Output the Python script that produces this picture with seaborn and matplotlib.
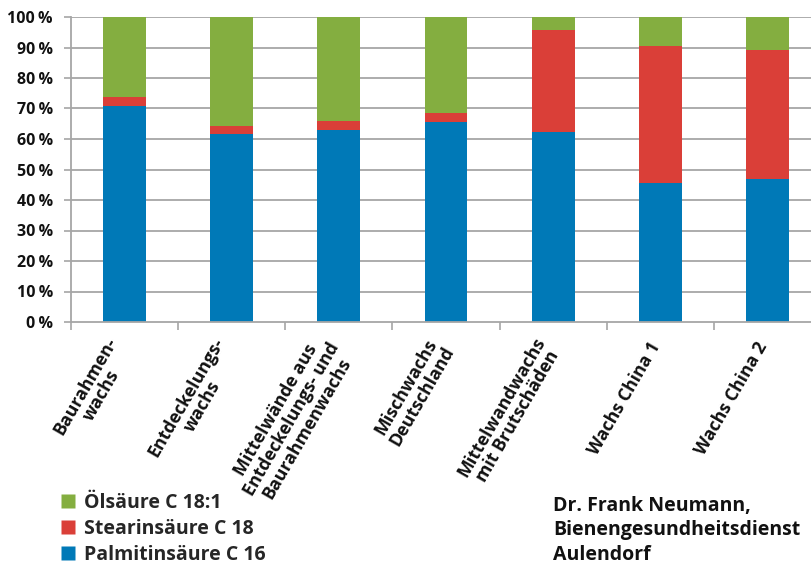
import matplotlib
matplotlib.use("Agg")
import matplotlib.pyplot as plt
from matplotlib.lines import Line2D
from matplotlib.transforms import ScaledTranslation
import numpy as np
import pandas as pd
import seaborn as sns

# Wax samples and their fatty acid shares (percent)
categories = [
    "Baurahmen-\nwachs",
    "Entdeckelungs-\nwachs",
    "Mittelwände aus\nEntdeckelungs- und\nBaurahmenwachs",
    "Mischwachs\nDeutschland",
    "Mittelwandwachs\nmit Brutschäden",
    "Wachs China 1",
    "Wachs China 2",
]
palmitin = [70.8, 61.8, 63.0, 65.7, 62.2, 45.5, 46.9]
stearin = [3.0, 2.6, 3.0, 2.9, 33.6, 45.1, 42.4]
oelsaeure = [26.2, 35.6, 34.0, 31.4, 4.2, 9.4, 10.7]

series_names = ["Ölsäure C 18:1", "Stearinsäure C 18", "Palmitinsäure C 16"]
colors = {"Ölsäure C 18:1": "#84AE40",
          "Stearinsäure C 18": "#DA3F38",
          "Palmitinsäure C 16": "#0079B7"}
y_ticks = list(range(0, 101, 10))
y_tick_labels = [f"{v}\u2009%" for v in y_ticks]
author = "Dr. Frank Neumann,\nBienengesundheitsdienst\nAulendorf"

sns.set_theme(style="white")
plt.rcParams["font.family"] = ["Open Sans", "DejaVu Sans"]
plt.rcParams["font.weight"] = "bold"

df = pd.DataFrame({
    "Probe": categories,
    "Palmitinsäure C 16": palmitin,
    "Stearinsäure C 18": stearin,
    "Ölsäure C 18:1": oelsaeure,
})
# cumulative tops for stacking
df["top_palm"] = df["Palmitinsäure C 16"]
df["top_stear"] = df["top_palm"] + df["Stearinsäure C 18"]
df["top_oel"] = df["top_stear"] + df["Ölsäure C 18:1"]

fig = plt.figure(figsize=(8.11, 5.67), dpi=100)
ax = fig.add_axes([71 / 811, 1 - 322 / 567, 750 / 811, 305 / 567])

grid_color = "#A6A6A6"
for v in y_ticks[1:]:
    ax.axhline(v, color=grid_color, lw=1.3, zorder=0)

for col, name in [("top_oel", "Ölsäure C 18:1"),
                  ("top_stear", "Stearinsäure C 18"),
                  ("top_palm", "Palmitinsäure C 16")]:
    sns.barplot(data=df, x="Probe", y=col, color=colors[name], width=0.4,
                saturation=1, ax=ax, zorder=2, edgecolor="none")

text_color = "#111111"
ax.set_ylim(0, 100)
ax.set_xlim(-0.5, len(categories) - 0.5)
ax.set_xlabel("")
ax.set_ylabel("")
ax.set_yticks(y_ticks)
ax.set_yticklabels(y_tick_labels, fontsize=11.5, fontweight="bold", color=text_color)
ax.tick_params(axis="y", length=5, width=1.2, color=grid_color, pad=8, left=True)

ax.set_xticks(range(len(categories)))
ax.set_xticklabels(categories, rotation=60, ha="right", va="center",
                   rotation_mode="anchor", multialignment="center",
                   fontsize=12.8, fontweight="bold", color=text_color,
                   linespacing=1.02)
ax.tick_params(axis="x", length=0, pad=15.5)
nudge = ScaledTranslation(-4 / 100, 0, fig.dpi_scale_trans)
for lbl in ax.get_xticklabels():
    lbl.set_transform(lbl.get_transform() + nudge)
ax.set_xticks(np.arange(-0.5, len(categories), 1.0), minor=True)
ax.tick_params(axis="x", which="minor", length=6, width=1.2, color=grid_color,
               bottom=True)

for side in ["top", "right"]:
    ax.spines[side].set_visible(False)
for side in ["left", "bottom"]:
    ax.spines[side].set_color(grid_color)
    ax.spines[side].set_linewidth(1.3)

handles = [Line2D([0], [0], marker="s", linestyle="none", markersize=9.5,
                  markerfacecolor=colors[n], markeredgecolor="none")
           for n in series_names]
fig.legend(handles, series_names, loc="upper left",
           bbox_to_anchor=(58 / 811, 1 - 493 / 567), frameon=False,
           prop={"size": 14, "weight": "bold"}, handletextpad=0.35,
           labelspacing=0.3, borderaxespad=0, handlelength=1.0,
           borderpad=0)

fig.text(553 / 811, 1 - 496 / 567, author, ha="left", va="top",
         fontsize=14, fontweight="bold", color=text_color, linespacing=1.3)

fig.savefig("out.png", dpi=100, facecolor="white")
